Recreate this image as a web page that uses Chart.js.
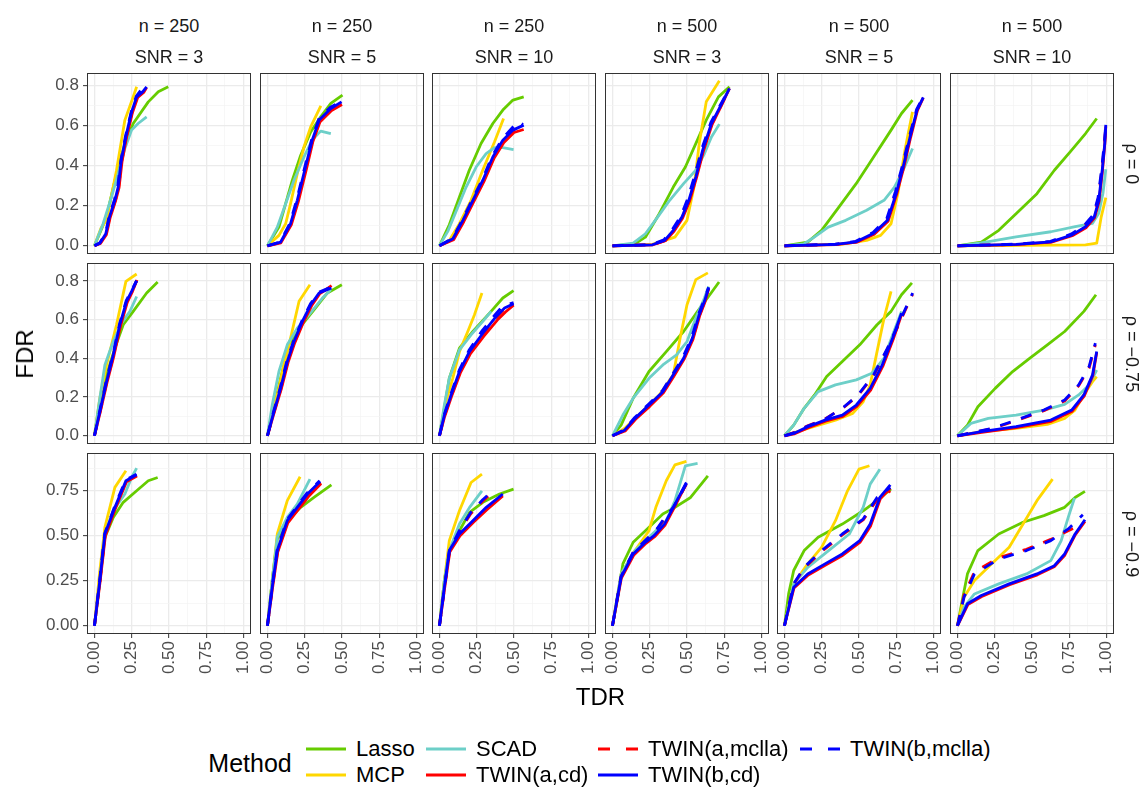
<!DOCTYPE html>
<html>
<head>
<meta charset="utf-8">
<script src="https://cdn.jsdelivr.net/npm/chart.js@4"></script>
<style>
  body { margin: 0; background: #fff; width: 1143px; height: 788px; position: relative; overflow: hidden;
         font-family: "Liberation Sans", Arial, sans-serif; }
  canvas { position: absolute; }
  .txt { position: absolute; white-space: nowrap; transform: translate(-50%, -50%); }
  .strip { font-size: 18px; color: #1a1a1a; }
  .title { font-size: 24px; color: #000; }
  .ltitle { font-size: 25px; color: #000; }
  .leg { position: absolute; white-space: nowrap; transform: translateY(-50%); font-size: 22px; color: #000; }
  .key { position: absolute; transform: translateY(-50%); }
</style>
</head>
<body>
<script>
// facet labels
const nLabels = ['n = 250', 'n = 250', 'n = 250', 'n = 500', 'n = 500', 'n = 500'];
const snrLabels = ['SNR = 3', 'SNR = 5', 'SNR = 10', 'SNR = 3', 'SNR = 5', 'SNR = 10'];
const rhoLabels = ['ρ = 0', 'ρ = −0.75', 'ρ = −0.9'];

// axis ticks
const xTicks = [0, 0.25, 0.5, 0.75, 1];
const xTickLabels = ['0.00', '0.25', '0.50', '0.75', '1.00'];
const yTicksA = [0, 0.2, 0.4, 0.6, 0.8];
const yTickLabelsA = ['0.0', '0.2', '0.4', '0.6', '0.8'];
const yTicksB = [0, 0.25, 0.5, 0.75];
const yTickLabelsB = ['0.00', '0.25', '0.50', '0.75'];

const methods = ['Lasso', 'MCP', 'SCAD', 'TWIN(a,cd)', 'TWIN(a,mclla)', 'TWIN(b,cd)', 'TWIN(b,mclla)'];

// [TDR, FDR] points, one list per panel (row by row, left to right)
const lasso = [
  [[0,0],[.04,.07],[.08,.143],[.148,.36],[.204,.51],[.26,.61],[.361,.718],[.428,.768],[.495,.793]],
  [[0,0],[.077,.093],[.122,.21],[.167,.327],[.223,.452],[.29,.568],[.357,.643],[.425,.71],[.503,.752]],
  [[0,0],[.066,.105],[.134,.243],[.2,.377],[.279,.51],[.358,.61],[.425,.677],[.493,.727],[.565,.743]],
  [[0,0],[.151,.01],[.221,.043],[.314,.16],[.408,.293],[.489,.393],[.559,.51],[.629,.627],[.711,.743],[.785,.793]],
  [[0,0],[.156,.018],[.249,.077],[.365,.193],[.481,.31],[.598,.443],[.715,.577],[.785,.66],[.859,.727]],
  [[0,0],[.16,.018],[.277,.077],[.393,.16],[.533,.26],[.65,.377],[.766,.477],[.859,.56],[.934,.635]],
  [[0,0],[.036,.176],[.081,.315],[.137,.453],[.193,.574],[.26,.643],[.35,.738],[.424,.795]],
  [[0,0],[.043,.142],[.088,.297],[.144,.47],[.223,.565],[.312,.651],[.402,.738],[.499,.781]],
  [[0,0],[.033,.142],[.066,.297],[.134,.453],[.224,.539],[.336,.634],[.425,.712],[.497,.75]],
  [[0,0],[.058,.055],[.139,.194],[.245,.332],[.361,.435],[.477,.539],[.571,.643],[.653,.729],[.715,.795]],
  [[0,0],[.062,.055],[.132,.142],[.202,.211],[.283,.306],[.388,.384],[.505,.47],[.621,.574],[.715,.643],[.785,.729],[.855,.79]],
  [[0,0],[.067,.055],[.137,.15],[.253,.245],[.37,.332],[.486,.401],[.603,.47],[.719,.539],[.848,.643],[.929,.729]],
  [[0,0],[.036,.251],[.07,.491],[.126,.602],[.193,.686],[.283,.75],[.361,.806],[.424,.824]],
  [[0,0],[.032,.251],[.066,.482],[.133,.584],[.223,.658],[.312,.713],[.429,.783]],
  [[0,0],[.033,.251],[.066,.418],[.134,.528],[.202,.63],[.291,.686],[.403,.732],[.497,.759]],
  [[0,0],[.035,.159],[.07,.344],[.139,.464],[.221,.528],[.338,.621],[.419,.658],[.524,.713],[.64,.833]],
  [[0,0],[.028,.177],[.062,.307],[.132,.418],[.226,.492],[.388,.565],[.528,.639],[.621,.695],[.715,.76]],
  [[0,0],[.032,.14],[.067,.288],[.137,.418],[.277,.51],[.44,.575],[.58,.612],[.719,.658],[.789,.713],[.855,.747]]
];
const mcp = [
  [[0,0],[.045,.09],[.081,.127],[.148,.377],[.204,.627],[.256,.735],[.283,.793]],
  [[0,0],[.077,.052],[.122,.11],[.155,.21],[.2,.36],[.245,.493],[.29,.593],[.358,.698]],
  [[0,0],[.066,.027],[.134,.11],[.212,.227],[.29,.377],[.369,.518],[.43,.635]],
  [[0,0],[.268,.007],[.419,.043],[.5,.127],[.547,.293],[.582,.51],[.629,.718],[.717,.823]],
  [[0,0],[.388,.008],[.551,.027],[.645,.052],[.715,.11],[.761,.262],[.808,.477],[.859,.668]],
  [[0,0],[.627,.003],[.859,.005],[.934,.013],[.964,.143],[.995,.24]],
  [[0,0],[.036,.194],[.081,.366],[.148,.574],[.211,.798],[.283,.836]],
  [[0,0],[.032,.124],[.066,.211],[.11,.366],[.155,.505],[.212,.695],[.285,.781]],
  [[0,0],[.044,.176],[.089,.297],[.134,.435],[.19,.539],[.235,.626],[.285,.738]],
  [[0,0],[.081,.038],[.198,.124],[.314,.211],[.408,.315],[.454,.505],[.5,.677],[.559,.807],[.64,.842]],
  [[0,0],[.156,.038],[.342,.081],[.458,.116],[.528,.176],[.575,.263],[.621,.435],[.668,.608],[.715,.746]],
  [[0,0],[.16,.021],[.393,.038],[.603,.059],[.719,.09],[.788,.133],[.846,.211],[.906,.28],[.934,.306]],
  [[0,0],[.036,.307],[.07,.547],[.137,.769],[.211,.861]],
  [[0,0],[.032,.251],[.066,.51],[.133,.695],[.219,.828]],
  [[0,0],[.033,.251],[.066,.473],[.134,.639],[.212,.796],[.285,.843]],
  [[0,0],[.058,.288],[.151,.418],[.245,.528],[.291,.658],[.361,.806],[.419,.894],[.496,.913]],
  [[0,0],[.062,.233],[.156,.344],[.249,.436],[.342,.584],[.423,.75],[.5,.87],[.57,.889]],
  [[0,0],[.044,.159],[.114,.251],[.23,.344],[.347,.436],[.44,.565],[.533,.695],[.638,.815]]
];
const scad = [
  [[0,0],[.058,.11],[.114,.243],[.159,.36],[.204,.485],[.249,.577],[.293,.61],[.35,.643]],
  [[0,0],[.066,.093],[.122,.21],[.178,.327],[.245,.443],[.3,.527],[.357,.572],[.425,.56]],
  [[0,0],[.056,.072],[.112,.172],[.179,.293],[.246,.393],[.313,.46],[.369,.49],[.425,.49],[.497,.48]],
  [[0,0],[.139,.013],[.221,.06],[.303,.143],[.384,.227],[.477,.31],[.559,.377],[.617,.46],[.664,.543],[.717,.607]],
  [[0,0],[.132,.01],[.2,.043],[.294,.093],[.411,.127],[.551,.177],[.668,.227],[.738,.293],[.796,.377],[.859,.485]],
  [[0,0],[.16,.015],[.393,.045],[.627,.07],[.79,.095],[.906,.112],[.948,.162],[.976,.262],[.995,.382]],
  [[0,0],[.036,.194],[.07,.366],[.126,.487],[.182,.582],[.238,.643],[.283,.72]],
  [[0,0],[.032,.159],[.077,.332],[.133,.47],[.2,.556],[.279,.626],[.369,.712],[.425,.755]],
  [[0,0],[.033,.159],[.066,.297],[.134,.444],[.212,.522],[.291,.591],[.347,.643]],
  [[0,0],[.07,.107],[.139,.194],[.245,.297],[.338,.366],[.43,.418],[.5,.487],[.559,.608],[.617,.712],[.645,.772]],
  [[0,0],[.062,.055],[.132,.142],[.226,.228],[.342,.263],[.482,.289],[.586,.323],[.668,.401],[.726,.522],[.785,.643]],
  [[0,0],[.09,.064],[.207,.09],[.393,.107],[.58,.133],[.719,.162],[.813,.211],[.883,.263],[.934,.34]],
  [[0,0],[.036,.251],[.07,.51],[.126,.639],[.204,.732],[.249,.824],[.283,.876]],
  [[0,0],[.032,.251],[.066,.492],[.133,.602],[.2,.676],[.245,.75],[.285,.815]],
  [[0,0],[.033,.251],[.066,.418],[.134,.565],[.202,.658],[.285,.75]],
  [[0,0],[.058,.288],[.151,.418],[.245,.492],[.361,.584],[.419,.695],[.489,.889],[.571,.902]],
  [[0,0],[.062,.233],[.156,.325],[.296,.418],[.435,.51],[.528,.658],[.575,.787],[.64,.87]],
  [[0,0],[.044,.103],[.114,.177],[.277,.233],[.463,.288],[.626,.362],[.696,.473],[.743,.602],[.785,.71]]
];
const twinACd = [
  [[0,0],[.04,.012],[.08,.055],[.105,.14],[.142,.225],[.165,.29],[.185,.42],[.215,.54],[.255,.665],[.29,.74],[.33,.765],[.35,.79]],
  [[0,0],[.09,.015],[.16,.105],[.207,.22],[.262,.385],[.305,.52],[.352,.618],[.43,.675],[.5,.705]],
  [[0,0],[.095,.03],[.163,.12],[.23,.22],[.298,.32],[.365,.435],[.432,.515],[.5,.565],[.565,.58]],
  [[0,0],[.272,.005],[.355,.025],[.413,.072],[.47,.138],[.517,.222],[.563,.338],[.61,.472],[.668,.605],[.725,.69],[.785,.785]],
  [[0,0],[.345,.006],[.485,.018],[.602,.058],[.695,.122],[.752,.255],[.8,.39],[.846,.54],[.892,.675],[.931,.738]],
  [[0,0],[.395,.006],[.63,.018],[.77,.05],[.862,.09],[.92,.14],[.95,.222],[.972,.37],[.988,.505],[.995,.595]],
  [[0,0],[.038,.12],[.084,.275],[.13,.412],[.175,.568],[.22,.69],[.253,.742],[.285,.805]],
  [[0,0],[.045,.12],[.092,.24],[.138,.378],[.183,.48],[.24,.585],[.296,.672],[.352,.735],[.43,.776]],
  [[0,0],[.035,.1],[.082,.205],[.14,.325],[.208,.425],[.298,.515],[.388,.598],[.443,.64],[.497,.675]],
  [[0,0],[.085,.025],[.155,.085],[.25,.152],[.342,.222],[.412,.308],[.48,.395],[.54,.498],[.585,.62],[.62,.69],[.645,.76]],
  [[0,0],[.065,.01],[.16,.042],[.276,.075],[.392,.1],[.486,.152],[.58,.238],[.66,.36],[.73,.5],[.785,.625]],
  [[0,0],[.163,.018],[.396,.042],[.63,.075],[.77,.127],[.85,.205],[.908,.31],[.934,.43]],
  [[0,0],[.038,.245],[.073,.5],[.14,.65],[.215,.8],[.285,.832]],
  [[0,0],[.034,.21],[.069,.41],[.137,.572],[.206,.645],[.275,.718],[.36,.79]],
  [[0,0],[.035,.21],[.069,.41],[.138,.5],[.228,.575],[.318,.645],[.425,.722]],
  [[0,0],[.06,.265],[.142,.392],[.225,.458],[.283,.495],[.352,.558],[.41,.65],[.496,.79]],
  [[0,0],[.064,.21],[.16,.282],[.276,.338],[.392,.392],[.508,.465],[.578,.555],[.643,.705],[.71,.765]],
  [[0,0],[.07,.118],[.163,.163],[.35,.228],[.536,.283],[.652,.33],[.72,.392],[.79,.505],[.855,.58]]
];
const twinAMclla = [
  [[0,0],[.038,.013],[.078,.058],[.102,.142],[.14,.226],[.162,.292],[.183,.424],[.212,.542],[.252,.667],[.287,.742],[.326,.766],[.35,.79]],
  [[0,0],[.089,.017],[.157,.108],[.203,.224],[.258,.39],[.302,.524],[.35,.622],[.428,.68],[.5,.712]],
  [[0,0],[.092,.033],[.16,.124],[.227,.224],[.294,.324],[.361,.44],[.428,.522],[.497,.575],[.527,.61],[.56,.598]],
  [[0,0],[.27,.005],[.352,.026],[.41,.075],[.468,.14],[.514,.224],[.56,.34],[.607,.474],[.666,.607],[.723,.691],[.785,.785]],
  [[0,0],[.343,.007],[.483,.019],[.6,.06],[.69,.13],[.748,.265],[.795,.398],[.843,.548],[.889,.678],[.931,.74]],
  [[0,0],[.394,.007],[.628,.019],[.765,.055],[.855,.1],[.915,.152],[.945,.235],[.97,.385],[.987,.515],[.995,.6]],
  [[0,0],[.037,.122],[.082,.278],[.128,.415],[.172,.571],[.217,.692],[.251,.744],[.284,.803]],
  [[0,0],[.044,.122],[.09,.243],[.135,.381],[.18,.484],[.237,.588],[.293,.675],[.349,.737],[.43,.77]],
  [[0,0],[.034,.104],[.08,.208],[.137,.33],[.204,.432],[.294,.528],[.384,.612],[.44,.66],[.497,.68]],
  [[0,0],[.083,.027],[.153,.088],[.247,.156],[.34,.226],[.41,.312],[.478,.399],[.538,.502],[.584,.623],[.618,.693],[.645,.762]],
  [[0,0],[.062,.016],[.156,.052],[.272,.087],[.4,.148],[.493,.208],[.598,.31],[.691,.448],[.773,.585],[.808,.645],[.86,.732]],
  [[0,0],[.23,.036],[.393,.078],[.58,.13],[.719,.18],[.813,.258],[.883,.35],[.925,.47]],
  [[0,0],[.037,.248],[.072,.505],[.138,.655],[.213,.803],[.284,.836]],
  [[0,0],[.033,.212],[.068,.414],[.135,.578],[.203,.652],[.272,.725],[.356,.796]],
  [[0,0],[.034,.212],[.068,.414],[.135,.525],[.21,.622],[.29,.692],[.347,.735]],
  [[0,0],[.058,.272],[.139,.405],[.221,.47],[.3,.535],[.35,.595],[.41,.655],[.494,.785]],
  [[0,0],[.062,.23],[.132,.32],[.249,.412],[.388,.505],[.528,.588],[.621,.7],[.71,.75]],
  [[0,0],[.044,.17],[.114,.3],[.277,.378],[.463,.425],[.626,.48],[.743,.528],[.8,.55]]
];
const twinBCd = [
  [[0,0],[.036,.013],[.076,.06],[.1,.143],[.137,.227],[.159,.293],[.18,.427],[.21,.543],[.249,.668],[.283,.743],[.323,.768],[.35,.793]],
  [[0,0],[.088,.018],[.155,.11],[.2,.227],[.255,.393],[.3,.527],[.347,.627],[.425,.685],[.497,.718]],
  [[0,0],[.09,.035],[.157,.127],[.224,.227],[.291,.327],[.358,.443],[.425,.527],[.493,.577],[.565,.602]],
  [[0,0],[.268,.005],[.35,.027],[.408,.077],[.466,.143],[.512,.227],[.559,.343],[.605,.477],[.664,.61],[.722,.693],[.785,.785]],
  [[0,0],[.342,.007],[.481,.02],[.598,.062],[.691,.127],[.749,.26],[.796,.393],[.843,.545],[.889,.677],[.931,.74]],
  [[0,0],[.393,.007],[.627,.02],[.766,.053],[.859,.095],[.918,.145],[.948,.227],[.971,.377],[.988,.51],[.995,.603]],
  [[0,0],[.036,.124],[.081,.28],[.126,.418],[.17,.574],[.215,.695],[.249,.746],[.283,.802]],
  [[0,0],[.043,.124],[.088,.245],[.133,.384],[.178,.487],[.234,.591],[.29,.677],[.346,.738],[.429,.764]],
  [[0,0],[.033,.107],[.078,.211],[.134,.332],[.201,.435],[.291,.53],[.381,.617],[.437,.66],[.497,.683]],
  [[0,0],[.081,.029],[.151,.09],[.245,.159],[.338,.228],[.408,.315],[.477,.401],[.536,.505],[.582,.626],[.617,.695],[.645,.764]],
  [[0,0],[.062,.012],[.156,.047],[.272,.081],[.388,.107],[.482,.159],[.575,.245],[.656,.366],[.726,.505],[.785,.634]],
  [[0,0],[.16,.021],[.393,.047],[.626,.081],[.766,.133],[.848,.211],[.906,.315],[.934,.435]],
  [[0,0],[.036,.251],[.07,.51],[.137,.658],[.211,.806],[.283,.839]],
  [[0,0],[.032,.214],[.066,.418],[.133,.584],[.2,.658],[.268,.732],[.353,.802]],
  [[0,0],[.033,.214],[.066,.418],[.134,.51],[.224,.584],[.314,.658],[.425,.732]],
  [[0,0],[.058,.27],[.139,.399],[.221,.464],[.279,.501],[.349,.565],[.408,.658],[.496,.796]],
  [[0,0],[.062,.214],[.156,.288],[.272,.344],[.388,.399],[.505,.473],[.575,.565],[.64,.713],[.71,.783]],
  [[0,0],[.067,.122],[.16,.168],[.347,.233],[.533,.288],[.65,.334],[.719,.399],[.789,.51],[.855,.589]]
];
const twinBMclla = [
  [[0,0],[.036,.015],[.075,.063],[.098,.146],[.134,.23],[.156,.296],[.178,.43],[.208,.546],[.247,.67],[.28,.745],[.31,.775],[.345,.79]],
  [[0,0],[.086,.02],[.152,.114],[.197,.232],[.252,.398],[.297,.532],[.344,.632],[.42,.69],[.497,.722]],
  [[0,0],[.088,.038],[.154,.13],[.221,.232],[.288,.332],[.355,.45],[.422,.535],[.49,.59],[.527,.62],[.56,.605]],
  [[0,0],[.265,.006],[.345,.03],[.402,.082],[.46,.15],[.505,.235],[.552,.352],[.6,.485],[.66,.615],[.72,.698],[.785,.785]],
  [[0,0],[.34,.008],[.478,.022],[.594,.066],[.686,.135],[.744,.27],[.792,.402],[.84,.552],[.887,.682],[.931,.742]],
  [[0,0],[.39,.008],[.624,.022],[.762,.058],[.852,.103],[.912,.156],[.943,.24],[.968,.39],[.986,.52],[.995,.61]],
  [[0,0],[.035,.127],[.079,.284],[.124,.422],[.168,.578],[.213,.698],[.247,.748],[.282,.8]],
  [[0,0],[.042,.127],[.086,.25],[.131,.39],[.176,.492],[.232,.596],[.288,.682],[.344,.742],[.427,.768]],
  [[0,0],[.032,.11],[.076,.215],[.132,.338],[.198,.442],[.288,.545],[.378,.63],[.425,.672],[.497,.688]],
  [[0,0],[.079,.031],[.148,.093],[.242,.163],[.335,.233],[.405,.32],[.474,.408],[.533,.512],[.579,.632],[.614,.7],[.645,.768]],
  [[0,0],[.062,.015],[.156,.05],[.272,.085],[.4,.15],[.493,.211],[.598,.315],[.691,.453],[.773,.591],[.808,.651],[.86,.738]],
  [[0,0],[.23,.038],[.393,.081],[.58,.133],[.719,.185],[.813,.263],[.883,.358],[.925,.479]],
  [[0,0],[.035,.254],[.069,.514],[.135,.662],[.209,.81],[.282,.842]],
  [[0,0],[.031,.218],[.065,.422],[.131,.59],[.198,.664],[.266,.738],[.35,.806]],
  [[0,0],[.034,.214],[.067,.418],[.134,.53],[.21,.63],[.29,.7],[.347,.742]],
  [[0,0],[.058,.275],[.139,.41],[.221,.475],[.3,.54],[.35,.6],[.41,.66],[.496,.79]],
  [[0,0],[.062,.233],[.132,.325],[.249,.418],[.388,.51],[.528,.593],[.621,.713],[.71,.769]],
  [[0,0],[.044,.159],[.114,.288],[.277,.371],[.463,.418],[.626,.473],[.743,.538],[.841,.617]]
];
const seriesData = [lasso, mcp, scad, twinACd, twinAMclla, twinBCd, twinBMclla];

// styling
const colors = ['#66cc00', '#ffd700', '#6dcfc8', '#ff0000', '#ff0000', '#0000ff', '#0000ff'];
const dashes = [[], [], [], [], [11, 11], [], [11, 11]];
const tickFont = { family: 'Liberation Sans, Arial, sans-serif', size: 17 };

// layout (px)
const panelLeft = [87, 260, 432, 605, 777, 950];
const panelTop = [73, 263, 453];
const panelW = 164, panelH = 181;
const yRange = [[-0.041, 0.862], [-0.0425, 0.893], [-0.0457, 0.96]];
const PT = 16, PR = 24, PB = 16, HX = 62;

function withMinors(majors, max) {
  const step = majors[1] - majors[0];
  const out = [];
  majors.forEach(v => { out.push(v); if (v + step / 2 <= max) out.push(v + step / 2); });
  return out;
}
const majorIdx = (v, majors) => majors.findIndex(m => Math.abs(m - v) < 1e-9);

function gridOpts(majors, showTicks) {
  return {
    color: c => (c.tick && majorIdx(c.tick.value, majors) >= 0) ? '#ebebeb' : '#f3f3f3',
    lineWidth: c => (c.tick && majorIdx(c.tick.value, majors) >= 0) ? 1.3 : 0.7,
    drawTicks: showTicks,
    tickLength: 4,
    tickWidth: 1,
    tickColor: c => (c.tick && majorIdx(c.tick.value, majors) >= 0) ? '#333333' : 'rgba(0,0,0,0)'
  };
}

const panelBorder = {
  id: 'panelBorder',
  afterDraw(chart) {
    const a = chart.chartArea, g = chart.ctx;
    g.save();
    g.strokeStyle = '#333333';
    g.lineWidth = 1;
    g.strokeRect(a.left + 0.5, a.top + 0.5, a.width - 1, a.height - 1);
    g.restore();
  }
};

for (let r = 0; r < 3; r++) {
  for (let c = 0; c < 6; c++) {
    const p = r * 6 + c;
    const leftCol = c === 0, bottomRow = r === 2;
    const wy = leftCol ? panelLeft[0] : 0;
    const hx = bottomRow ? HX : 0;
    const pb = bottomRow ? 0 : PB;
    const cv = document.createElement('canvas');
    cv.width = wy + panelW + PR;
    cv.height = PT + panelH + hx + pb;
    cv.style.left = (panelLeft[c] - wy) + 'px';
    cv.style.top = (panelTop[r] - PT) + 'px';
    document.body.appendChild(cv);

    const yMaj = r < 2 ? yTicksA : yTicksB;
    const yLab = r < 2 ? yTickLabelsA : yTickLabelsB;
    const [yMin, yMax] = yRange[r];

    const datasets = methods.map((m, k) => ({
      label: m,
      data: seriesData[k][p].map(([x, y]) => ({ x, y })),
      borderColor: colors[k],
      borderWidth: 2.8,
      borderDash: dashes[k],
      borderCapStyle: 'butt',
      borderJoinStyle: 'round',
      pointRadius: 0,
      fill: false,
      tension: 0,
      order: 7 - k
    }));

    new Chart(cv, {
      type: 'line',
      data: { datasets },
      plugins: [panelBorder],
      options: {
        responsive: false,
        animation: false,
        events: [],
        layout: { padding: { top: PT, right: PR, bottom: pb, left: 0 } },
        plugins: { legend: { display: false }, tooltip: { enabled: false } },
        scales: {
          x: {
            type: 'linear', min: -0.05, max: 1.05,
            afterBuildTicks: s => { s.ticks = withMinors(xTicks, 1.05).map(v => ({ value: v })); },
            afterFit: s => { s.height = hx; },
            border: { display: false },
            grid: gridOpts(xTicks, bottomRow),
            ticks: {
              display: bottomRow, autoSkip: false, minRotation: 90, maxRotation: 90,
              padding: 3, color: '#4d4d4d', font: tickFont,
              callback: v => { const i = majorIdx(v, xTicks); return i >= 0 ? xTickLabels[i] : ''; }
            }
          },
          y: {
            type: 'linear', min: yMin, max: yMax,
            afterBuildTicks: s => { s.ticks = withMinors(yMaj, yMax).map(v => ({ value: v })); },
            afterFit: s => { s.width = wy; },
            border: { display: false },
            grid: gridOpts(yMaj, leftCol),
            ticks: {
              display: leftCol, autoSkip: false, padding: 4, color: '#4d4d4d', font: tickFont,
              callback: v => { const i = majorIdx(v, yMaj); return i >= 0 ? yLab[i] : ''; }
            }
          }
        }
      }
    });
  }
}

function addText(cls, text, x, y, rot) {
  const d = document.createElement('div');
  d.className = 'txt ' + cls;
  d.textContent = text;
  d.style.left = x + 'px';
  d.style.top = y + 'px';
  if (rot) d.style.transform = 'translate(-50%, -50%) rotate(' + rot + 'deg)';
  document.body.appendChild(d);
}

// strips
for (let c = 0; c < 6; c++) {
  const cx = panelLeft[c] + panelW / 2;
  addText('strip', nLabels[c], cx, 26);
  addText('strip', snrLabels[c], cx, 57);
}
for (let r = 0; r < 3; r++) {
  addText('strip', rhoLabels[r], 1131, panelTop[r] + panelH / 2, 90);
}

// axis titles
addText('title', 'FDR', 25, (panelTop[0] + panelTop[2] + panelH) / 2, -90);
addText('title', 'TDR', (panelLeft[0] + panelLeft[5] + panelW) / 2, 697);

// legend
addText('ltitle', 'Method', 250, 763);
const legCol = [0, 0, 1, 1, 2, 2, 3];
const legRow = [0, 1, 0, 1, 0, 1, 0];
const legKeyX = [306, 426, 598, 800];
const legRowY = [749, 775];
methods.forEach((m, k) => {
  const kx = legKeyX[legCol[k]], ky = legRowY[legRow[k]];
  const svgNS = 'http://www.w3.org/2000/svg';
  const svg = document.createElementNS(svgNS, 'svg');
  svg.setAttribute('width', '40');
  svg.setAttribute('height', '8');
  svg.setAttribute('class', 'key');
  svg.style.left = kx + 'px';
  svg.style.top = ky + 'px';
  const ln = document.createElementNS(svgNS, 'line');
  ln.setAttribute('x1', '0'); ln.setAttribute('x2', '40');
  ln.setAttribute('y1', '4'); ln.setAttribute('y2', '4');
  ln.setAttribute('stroke', colors[k]);
  ln.setAttribute('stroke-width', '3');
  if (dashes[k].length) ln.setAttribute('stroke-dasharray', '12 16');
  svg.appendChild(ln);
  document.body.appendChild(svg);
  const t = document.createElement('div');
  t.className = 'leg';
  t.textContent = m;
  t.style.left = (kx + 50) + 'px';
  t.style.top = ky + 'px';
  document.body.appendChild(t);
});
</script>
</body>
</html>
